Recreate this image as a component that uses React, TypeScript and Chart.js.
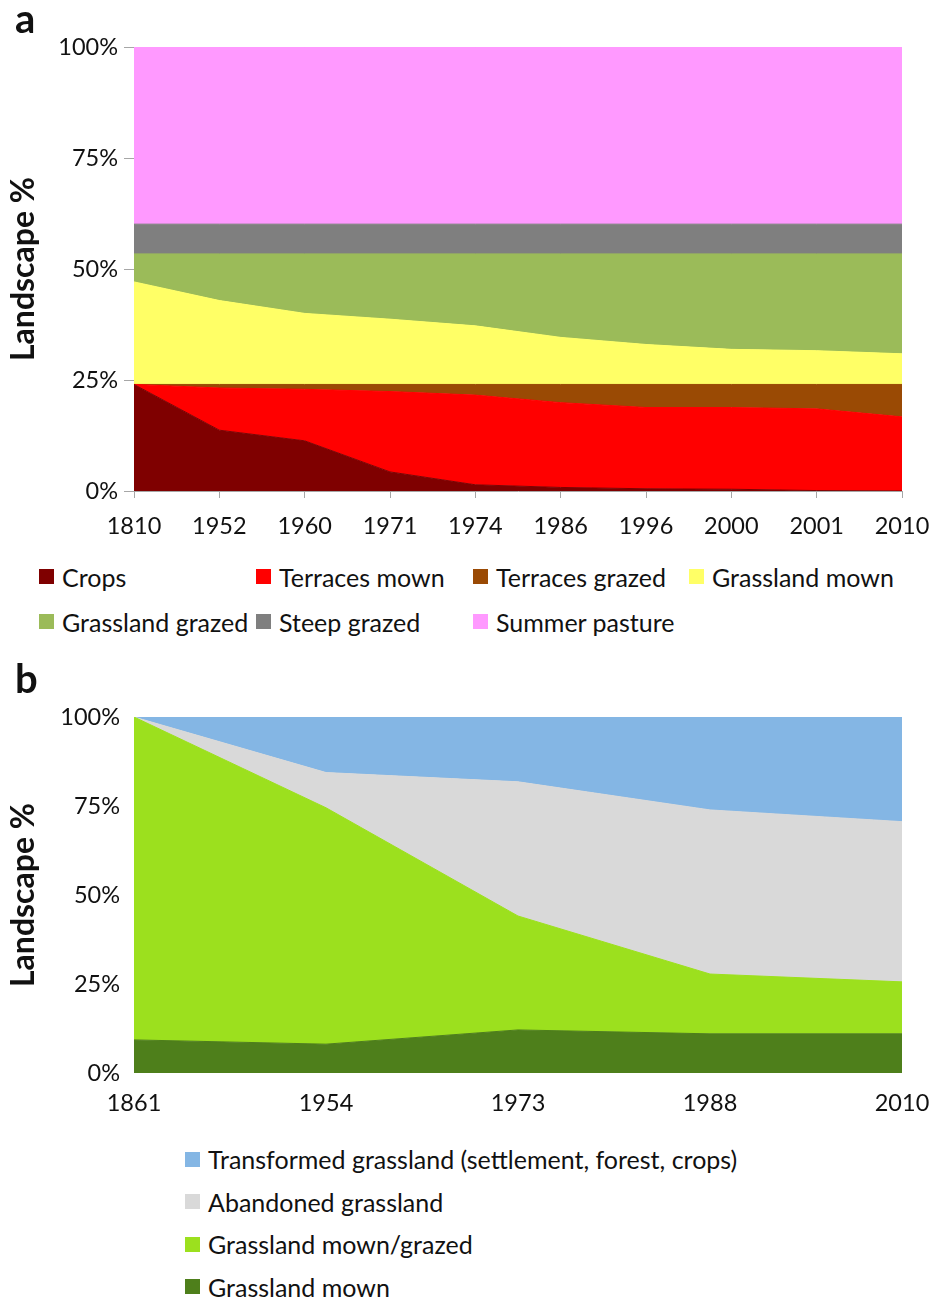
import React, { useEffect, useRef } from 'react';
import { Chart, registerables } from 'chart.js';

Chart.register(...registerables);

const FONT = 'Lato, "Open Sans", sans-serif';

// ---------- Panel a ----------
const yearsA = ['1810', '1952', '1960', '1971', '1974', '1986', '1996', '2000', '2001', '2010'];
const namesA = ['Crops', 'Terraces mown', 'Terraces grazed', 'Grassland mown', 'Grassland grazed', 'Steep grazed', 'Summer pasture'];
const colorsA = ['#7f0000', '#ff0000', '#9a4a04', '#ffff66', '#9bbb59', '#7f7f7f', '#ff99ff'];
const crops = [24.0, 13.7, 11.3, 4.3, 1.4, 0.8, 0.5, 0.4, 0.1, 0];
const terracesMown = [0, 9.5, 11.6, 18.1, 20.2, 19.1, 18.3, 18.4, 18.4, 16.7];
const terracesGrazed = [0, 0.8, 1.1, 1.6, 2.4, 4.1, 5.2, 5.2, 5.5, 7.3];
const grasslandMownA = [23.1, 18.9, 16.0, 14.7, 13.2, 10.6, 9.0, 7.9, 7.6, 6.9];
const grasslandGrazed = [6.3, 10.5, 13.4, 14.7, 16.2, 18.8, 20.4, 21.5, 21.8, 22.5];
const steepGrazed = [6.7, 6.7, 6.7, 6.7, 6.7, 6.7, 6.7, 6.7, 6.7, 6.7];
const summerPasture = [39.9, 39.9, 39.9, 39.9, 39.9, 39.9, 39.9, 39.9, 39.9, 39.9];
const seriesA = [crops, terracesMown, terracesGrazed, grasslandMownA, grasslandGrazed, steepGrazed, summerPasture];

// ---------- Panel b ----------
const yearsB = ['1861', '1954', '1973', '1988', '2010'];
const namesB = ['Grassland mown', 'Grassland mown/grazed', 'Abandoned grassland', 'Transformed grassland (settlement, forest, crops)'];
const colorsB = ['#4e7f1b', '#9ce01e', '#d9d9d9', '#84b6e4'];
const grasslandMownB = [9.3, 8.1, 12.1, 11.0, 11.0];
const mownGrazed = [90.7, 66.4, 32.0, 16.8, 14.6];
const abandoned = [0, 9.9, 37.7, 46.1, 45.0];
const transformed = [0, 15.6, 18.2, 26.1, 29.4];
const seriesB = [grasslandMownB, mownGrazed, abandoned, transformed];

const yTicks = [0, 25, 50, 75, 100];

const TICK_SIZE = 23.5;
const LEGEND_SIZE = 25;

function buildConfig(
  labels: string[],
  names: string[],
  colors: string[],
  series: number[][],
  opts: { axes: boolean; padTop: number; xHeight: number; xPad: number; yPad: number }
): any {
  const axisColor = '#a6a6a6';
  return {
    type: 'line',
    data: {
      labels,
      datasets: series.map((vals, i) => ({
        label: names[i],
        data: vals,
        backgroundColor: colors[i],
        borderColor: colors[i],
        borderWidth: 1,
        pointRadius: 0,
        pointHoverRadius: 0,
        tension: 0,
        fill: i === 0 ? 'origin' : '-1',
      })),
    },
    options: {
      responsive: false,
      animation: false,
      events: [],
      layout: { padding: { top: opts.padTop, right: 34, left: 0, bottom: 0 } },
      plugins: { legend: { display: false }, tooltip: { enabled: false }, title: { display: false } },
      scales: {
        x: {
          type: 'category',
          offset: false,
          stacked: true,
          grid: {
            display: opts.axes,
            drawOnChartArea: false,
            drawTicks: opts.axes,
            tickLength: 7,
            color: axisColor,
          },
          border: { display: opts.axes, color: axisColor },
          ticks: {
            autoSkip: false,
            maxRotation: 0,
            padding: opts.xPad,
            color: '#111',
            font: { family: FONT, size: TICK_SIZE },
          },
          afterFit: (s: any) => {
            s.height = opts.xHeight;
            s.paddingLeft = 0;
            s.paddingRight = 0;
          },
        },
        y: {
          type: 'linear',
          stacked: true,
          min: 0,
          max: 100,
          afterBuildTicks: (s: any) => {
            s.ticks = yTicks.map((v) => ({ value: v }));
          },
          grid: {
            display: opts.axes,
            drawOnChartArea: false,
            drawTicks: opts.axes,
            tickLength: 10,
            color: axisColor,
          },
          border: { display: opts.axes, color: axisColor },
          ticks: {
            padding: opts.yPad,
            color: '#111',
            font: { family: FONT, size: TICK_SIZE },
            callback: (v: any) => v + '%',
          },
          title: {
            display: true,
            text: 'Landscape %',
            color: '#111',
            padding: { top: 4, bottom: 0 },
            font: { family: FONT, size: 32, weight: 'bold' },
          },
          afterFit: (s: any) => {
            s.width = 134;
          },
        },
      },
    },
  };
}

function LegendItem({ x, cy, color, text }: { x: number; cy: number; color: string; text: string }) {
  return (
    <div
      style={{
        position: 'absolute',
        left: x,
        top: cy - 15,
        height: 30,
        display: 'flex',
        alignItems: 'center',
        whiteSpace: 'nowrap',
      }}
    >
      <span style={{ width: 15, height: 15, background: color, marginRight: 8, flex: 'none', display: 'inline-block' }} />
      <span style={{ fontSize: LEGEND_SIZE, lineHeight: '30px', color: '#111' }}>{text}</span>
    </div>
  );
}

export default function App() {
  const refA = useRef<HTMLCanvasElement>(null);
  const refB = useRef<HTMLCanvasElement>(null);

  useEffect(() => {
    const chartA = new Chart(
      refA.current as HTMLCanvasElement,
      buildConfig(yearsA, namesA, colorsA, seriesA, { axes: true, padTop: 47, xHeight: 69, xPad: 14, yPad: 6 })
    );
    const chartB = new Chart(
      refB.current as HTMLCanvasElement,
      buildConfig(yearsB, namesB, colorsB, seriesB, { axes: false, padTop: 77, xHeight: 57, xPad: 16, yPad: 14 })
    );
    return () => {
      chartA.destroy();
      chartB.destroy();
    };
  }, []);

  const colsA = [39, 256, 473, 689];
  const rowsA = [576.5, 621.5];
  const rowsB = [1159, 1201.5, 1244, 1286.5];
  const legendB = namesB.map((n, i) => ({ n, c: colorsB[i] })).reverse();

  return (
    <div style={{ position: 'absolute', left: 0, top: 0, width: 936, height: 1300, fontFamily: FONT, background: '#fff' }}>
      <canvas ref={refA} width={936} height={560} style={{ position: 'absolute', left: 0, top: 0, width: 936, height: 560 }} />
      <canvas ref={refB} width={936} height={490} style={{ position: 'absolute', left: 0, top: 640, width: 936, height: 490 }} />
      <div style={{ position: 'absolute', left: 15, top: -2.5, fontSize: 40, fontWeight: 700, lineHeight: '40px', color: '#111' }}>a</div>
      <div style={{ position: 'absolute', left: 15, top: 657.5, fontSize: 40, fontWeight: 700, lineHeight: '40px', color: '#111' }}>b</div>
      {namesA.map((n, i) => (
        <LegendItem key={n} x={colsA[i % 4]} cy={rowsA[Math.floor(i / 4)]} color={colorsA[i]} text={n} />
      ))}
      {legendB.map((it, i) => (
        <LegendItem key={it.n} x={185} cy={rowsB[i]} color={it.c} text={it.n} />
      ))}
    </div>
  );
}
